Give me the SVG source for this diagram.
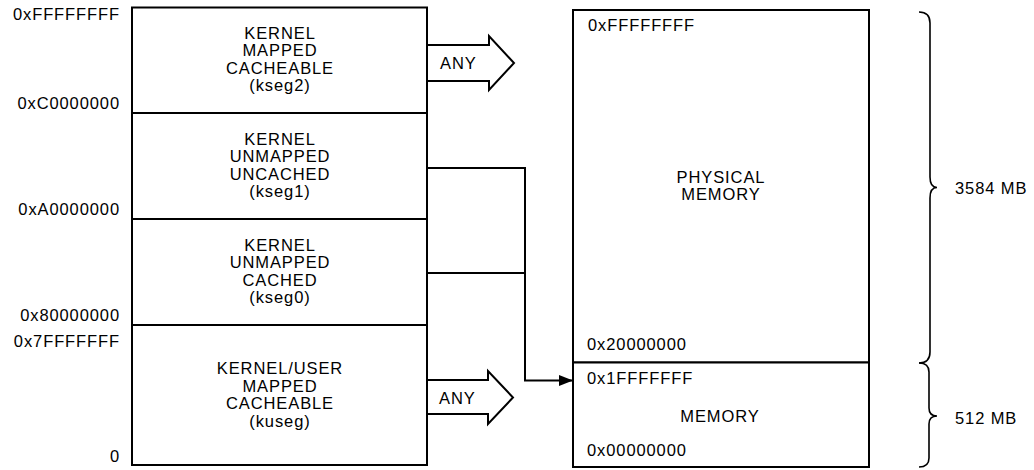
<svg xmlns="http://www.w3.org/2000/svg" width="1034" height="470" viewBox="0 0 1034 470">
<defs>
<style>
.box{fill:#fff;stroke:#000;stroke-width:2}
.t{font-family:"Liberation Sans",Arial,sans-serif;font-size:16.5px;letter-spacing:0.9px;fill:#000}
.c{text-anchor:middle}
.r{text-anchor:end}
.wire{fill:none;stroke:#000;stroke-width:2}
.fat{fill:#fff;stroke:#000;stroke-width:2;stroke-linejoin:miter}
.brace{fill:none;stroke:#000;stroke-width:1.6}
</style>
<marker id="ah" markerUnits="userSpaceOnUse" viewBox="0 0 14 11" refX="14" refY="5.5" markerWidth="14" markerHeight="11" orient="auto">
<path d="M0 0 L14 5.5 L0 11 Z" fill="#000"/>
</marker>
</defs>
<rect width="1034" height="470" fill="#fff"/>

<g id="address-labels">
<text class="t r" x="120" y="20">0xFFFFFFFF</text>
<text class="t r" x="120" y="109">0xC0000000</text>
<text class="t r" x="120" y="215">0xA0000000</text>
<text class="t r" x="120" y="321">0x80000000</text>
<text class="t r" x="120" y="347">0x7FFFFFFF</text>
<text class="t r" x="120" y="462">0</text>
</g>

<g id="connectors">
<path class="wire" d="M427 168 H525 V380.5 H573" marker-end="url(#ah)"/>
<path class="wire" d="M427 273 H525"/>
<path class="fat" d="M427 45 H489 V36 L514 63 L489 90 V81 H427"/>
<text class="t" x="440" y="68.5">ANY</text>
<path class="fat" d="M427 380 H488 V371 L513 397.5 L488 424 V414 H427"/>
<text class="t" x="439" y="403.5">ANY</text>
</g>

<g id="kseg2">
<rect class="box" x="132" y="7.5" width="295" height="105.5"/>
<text class="t c" x="280" y="38.7">KERNEL</text>
<text class="t c" x="280" y="56.2">MAPPED</text>
<text class="t c" x="280" y="73.7">CACHEABLE</text>
<text class="t c" x="280" y="91.2">(kseg2)</text>
</g>
<g id="kseg1">
<rect class="box" x="132" y="113" width="295" height="106"/>
<text class="t c" x="280" y="144.7">KERNEL</text>
<text class="t c" x="280" y="162.2">UNMAPPED</text>
<text class="t c" x="280" y="179.7">UNCACHED</text>
<text class="t c" x="280" y="197.2">(kseg1)</text>
</g>
<g id="kseg0">
<rect class="box" x="132" y="219" width="295" height="106"/>
<text class="t c" x="280" y="250.7">KERNEL</text>
<text class="t c" x="280" y="268.2">UNMAPPED</text>
<text class="t c" x="280" y="285.7">CACHED</text>
<text class="t c" x="280" y="303.2">(kseg0)</text>
</g>
<g id="kuseg">
<rect class="box" x="132" y="325" width="295" height="140"/>
<text class="t c" x="280" y="374.2">KERNEL/USER</text>
<text class="t c" x="280" y="391.7">MAPPED</text>
<text class="t c" x="280" y="409.2">CACHEABLE</text>
<text class="t c" x="280" y="426.7">(kuseg)</text>
</g>

<g id="physical-memory">
<rect class="box" x="573" y="10" width="296" height="352.5"/>
<text class="t" x="588" y="31">0xFFFFFFFF</text>
<text class="t c" x="721" y="183">PHYSICAL</text>
<text class="t c" x="721" y="200">MEMORY</text>
<text class="t" x="587" y="350">0x20000000</text>
</g>
<g id="memory">
<rect class="box" x="573" y="362.5" width="296" height="104.5"/>
<text class="t" x="587" y="384">0x1FFFFFFF</text>
<text class="t c" x="720" y="421.5">MEMORY</text>
<text class="t" x="587" y="455.5">0x00000000</text>
</g>

<g id="size-3584">
<path class="brace" d="M919 12 Q930 12 930 23 L930 177 Q930 187.5 937 187.5 Q930 187.5 930 198 L930 352 Q930 363 919 363"/>
<text class="t" x="955" y="194">3584 MB</text>
</g>
<g id="size-512">
<path class="brace" d="M919 363 Q929 363 929 372 L929 408 Q929 416 937 416 Q929 416 929 424 L929 458 Q929 467 919 467"/>
<text class="t" x="955" y="424">512 MB</text>
</g>
</svg>
